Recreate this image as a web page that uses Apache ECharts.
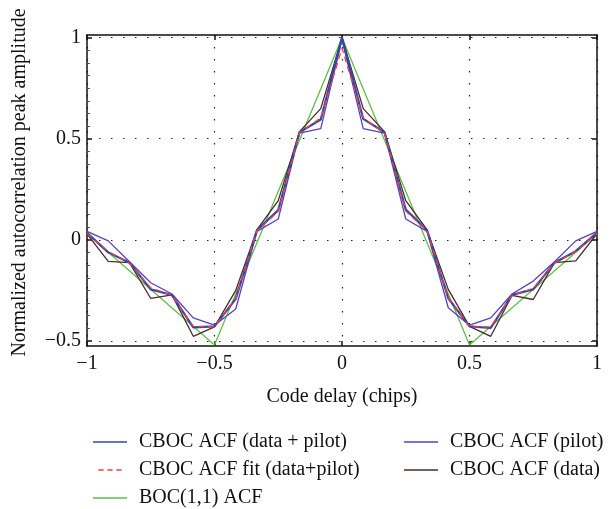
<!DOCTYPE html>
<html><head><meta charset="utf-8">
<script src="https://cdn.jsdelivr.net/npm/echarts@6/dist/echarts.min.js"></script>
<style>html,body{margin:0;padding:0;background:#fff}#c{width:614px;height:509px}</style>
</head><body><div id="c"></div>
<script>
// sample positions (chips), k/12 for k=-12..12
var delays = [-1, -0.9167, -0.8333, -0.75, -0.6667, -0.5833, -0.5, -0.4167, -0.3333, -0.25, -0.1667, -0.0833, 0,
              0.0833, 0.1667, 0.25, 0.3333, 0.4167, 0.5, 0.5833, 0.6667, 0.75, 0.8333, 0.9167, 1];
var cbocDataPilot = [0.035, -0.062, -0.113, -0.245, -0.273, -0.433, -0.428, -0.292, 0.048, 0.147, 0.532, 0.595, 1.0,
                     0.598, 0.532, 0.150, 0.048, -0.289, -0.428, -0.436, -0.272, -0.245, -0.113, -0.056, 0.036];
var cbocFit = [0.032, -0.058, -0.115, -0.238, -0.275, -0.428, -0.430, -0.288, 0.045, 0.140, 0.528, 0.603, 0.947,
               0.603, 0.528, 0.142, 0.045, -0.286, -0.430, -0.430, -0.275, -0.240, -0.115, -0.058, 0.032];
var bocX = [-1, -0.5, 0, 0.5, 1];
var boc11 = [0.03, -0.52, 1.0, -0.52, 0.03];
var cbocPilot = [0.042, -0.005, -0.108, -0.212, -0.268, -0.386, -0.422, -0.342, 0.042, 0.103, 0.528, 0.550, 0.99,
                 0.550, 0.528, 0.103, 0.042, -0.336, -0.422, -0.386, -0.268, -0.204, -0.108, -0.005, 0.042];
var cbocData = [0.030, -0.107, -0.113, -0.290, -0.272, -0.477, -0.430, -0.250, 0.050, 0.194, 0.535, 0.649, 1.0,
                0.649, 0.535, 0.194, 0.050, -0.245, -0.428, -0.477, -0.275, -0.295, -0.113, -0.104, 0.030];
var xTicks = [-1, -0.5, 0, 0.5, 1];
var yTicks = [-0.5, 0, 0.5, 1];
var yMinor = [];
for (var v = -0.5; v <= 1.0001; v += 0.0625) yMinor.push(+v.toFixed(4));

function pairs(xs, ys){ return xs.map(function(x,i){ return [x, ys[i]]; }); }
function fmt(v){ return String(v).replace('-', '\u2212'); }

var FONT = 'Liberation Serif';
var FS = 20;
var YMIN = -0.525, YMAX = 1.013;
var SOLID = 'rect';
var DASHED = 'path://M0,0h7v2h-7z M12,0h7v2h-7z M24,0h7v2h-7z';
var chart = echarts.init(document.getElementById('c'), null, {renderer:'canvas'});
var lineBase = {type:'line', symbol:'none', showSymbol:false, animation:false, z:3};
var legendCommon = {orient:'vertical', itemWidth:34, itemHeight:1.5, itemGap:8, height:130};
chart.setOption({
  animation:false,
  backgroundColor:'#fff',
  grid:{left:87, right:17, top:35, bottom:163, containLabel:false, outerBoundsMode:'none'},
  xAxis:[{
    type:'value', min:-1, max:1, interval:0.5, position:'bottom',
    name:'Code delay (chips)', nameLocation:'middle', nameGap:41,
    nameTextStyle:{fontFamily:FONT, fontSize:FS, color:'#111'},
    axisLine:{show:true, onZero:false, lineStyle:{color:'#111', width:1.5}},
    axisTick:{show:true, inside:true, length:5, lineStyle:{color:'#111', width:1.5}},
    axisLabel:{fontFamily:FONT, fontSize:FS, color:'#111', margin:8, formatter:fmt},
    splitLine:{show:true, lineStyle:{color:'#222', width:1.2, type:[1.5,10.5]}}
  },{
    type:'value', min:-1, max:1, interval:0.5, position:'top',
    axisLine:{show:true, onZero:false, lineStyle:{color:'#111', width:1.5}},
    axisTick:{show:true, inside:true, length:5, lineStyle:{color:'#111', width:1.5}},
    axisLabel:{show:false}, splitLine:{show:false}
  }],
  yAxis:[{
    type:'value', min:YMIN, max:YMAX, position:'left',
    name:'Normalized autocorrelation peak amplitude', nameLocation:'middle', nameGap:57,
    nameTextStyle:{fontFamily:FONT, fontSize:FS, color:'#111', padding:[0,0,0,16]},
    axisLine:{show:true, onZero:false, lineStyle:{color:'#111', width:1.5}},
    axisTick:{show:true, inside:true, length:5, customValues:yTicks, lineStyle:{color:'#111', width:1.5}},
    axisLabel:{fontFamily:FONT, fontSize:FS, color:'#111', margin:6, customValues:yTicks, formatter:fmt},
    splitLine:{show:false}
  },{
    type:'value', min:YMIN, max:YMAX, position:'right',
    axisLine:{show:true, onZero:false, lineStyle:{color:'#111', width:1.5}},
    axisTick:{show:true, inside:true, length:5, customValues:yTicks, lineStyle:{color:'#111', width:1.5}},
    axisLabel:{show:false}, splitLine:{show:false}
  },{
    type:'value', min:YMIN, max:YMAX, position:'left', offset:0,
    axisLine:{show:false, onZero:false},
    axisTick:{show:true, inside:true, length:3, customValues:yMinor, lineStyle:{color:'#555', width:1}},
    axisLabel:{show:false}, splitLine:{show:false}
  }],
  legend:[Object.assign({}, legendCommon, {
    left:88, top:427,
    textStyle:{fontFamily:FONT, fontSize:FS, color:'#111', padding:[0,0,0,7]},
    data:[{name:'CBOC ACF (data + pilot)', icon:SOLID},
          {name:'CBOC ACF fit (data+pilot)', icon:DASHED},
          {name:'BOC(1,1) ACF', icon:SOLID}]
  }), Object.assign({}, legendCommon, {
    left:399, top:427,
    textStyle:{fontFamily:FONT, fontSize:FS, color:'#111', padding:[0,0,0,7]},
    data:[{name:'CBOC ACF (pilot)', icon:SOLID}, {name:'CBOC ACF (data)', icon:SOLID}]
  })],
  series:[
    Object.assign({}, lineBase, {name:'BOC(1,1) ACF', data:pairs(bocX, boc11),
      lineStyle:{color:'#5fbf45', width:1.3}, itemStyle:{color:'#5fbf45'},
      markLine:{silent:true, symbol:'none', label:{show:false}, animation:false,
        lineStyle:{color:'#222', width:1.2, type:[1.5,10.5]},
        data:yTicks.map(function(t){ return {yAxis:t}; })}}),
    Object.assign({}, lineBase, {name:'CBOC ACF (data)', data:pairs(delays, cbocData),
      lineStyle:{color:'#4a2a2a', width:1.3}, itemStyle:{color:'#4a2a2a'}}),
    Object.assign({}, lineBase, {name:'CBOC ACF (pilot)', data:pairs(delays, cbocPilot),
      lineStyle:{color:'#5a3fc0', width:1.3}, itemStyle:{color:'#5a3fc0'}}),
    Object.assign({}, lineBase, {name:'CBOC ACF (data + pilot)', data:pairs(delays, cbocDataPilot),
      lineStyle:{color:'#3049a8', width:2.2}, itemStyle:{color:'#3049a8'}}),
    Object.assign({}, lineBase, {name:'CBOC ACF fit (data+pilot)', data:pairs(delays, cbocFit),
      lineStyle:{color:'#ff3b3b', width:1.3, type:[6,4]}, itemStyle:{color:'#ff3b3b'}})
  ]
});
</script></body></html>
